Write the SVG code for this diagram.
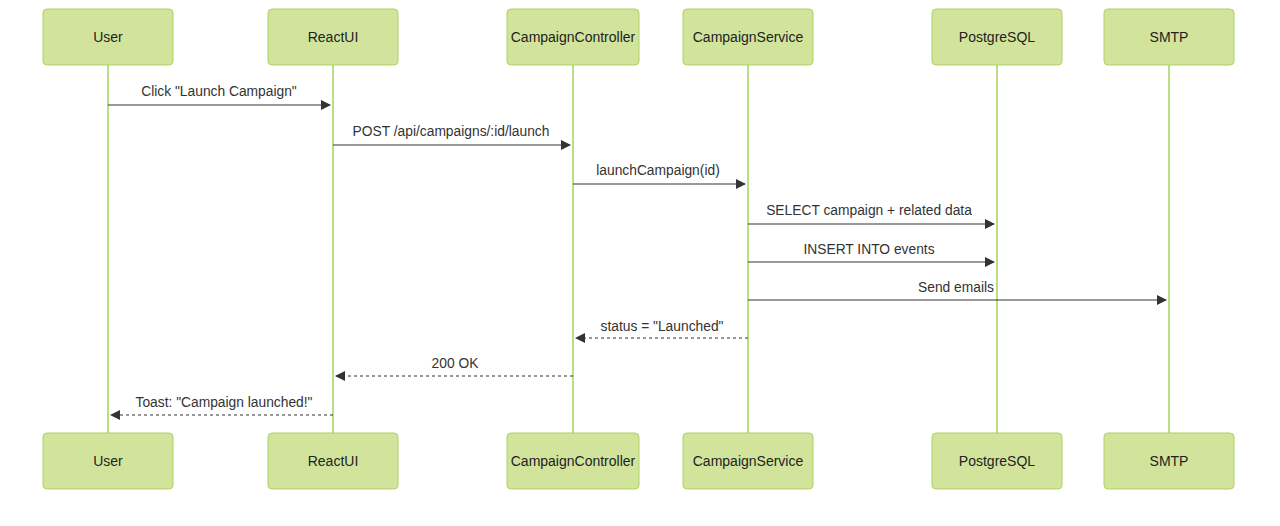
<svg xmlns="http://www.w3.org/2000/svg" width="1280" height="526" viewBox="0 0 1280 526">
<style>
.box{fill:#d2e49c;stroke:#aed260;stroke-width:1}
.life{stroke:#a7d05a;stroke-width:1.5}
.t{font-family:"Liberation Sans",Arial,sans-serif;font-size:14px;fill:#222;text-anchor:middle;dominant-baseline:central}
.m{font-family:"Liberation Sans",Arial,sans-serif;font-size:13.8px;fill:#333;text-anchor:middle}
.msg{stroke:#333;stroke-width:1;fill:none}
.dash{stroke-dasharray:3,3}
</style>
<defs>
<marker id="ah" viewBox="0 0 10 10" refX="9" refY="5" markerWidth="10" markerHeight="10" markerUnits="userSpaceOnUse" orient="auto">
<path d="M0,0 L10,5 L0,10 z" fill="#333"/>
</marker>
</defs>
<rect width="1280" height="526" fill="#fff"/>
<g id="lifelines">
<line class="life" x1="108" y1="65" x2="108" y2="433"/>
<line class="life" x1="333" y1="65" x2="333" y2="433"/>
<line class="life" x1="573" y1="65" x2="573" y2="433"/>
<line class="life" x1="748" y1="65" x2="748" y2="433"/>
<line class="life" x1="997" y1="65" x2="997" y2="433"/>
<line class="life" x1="1169" y1="65" x2="1169" y2="433"/>
</g>
<g id="User"><rect class="box" x="43" y="9" width="130" height="56" rx="4"/><text class="t" x="108" y="37">User</text><rect class="box" x="43" y="433" width="130" height="56" rx="4"/><text class="t" x="108" y="461">User</text></g>
<g id="ReactUI"><rect class="box" x="268" y="9" width="130" height="56" rx="4"/><text class="t" x="333" y="37">ReactUI</text><rect class="box" x="268" y="433" width="130" height="56" rx="4"/><text class="t" x="333" y="461">ReactUI</text></g>
<g id="CampaignController"><rect class="box" x="507" y="9" width="132" height="56" rx="4"/><text class="t" x="573" y="37">CampaignController</text><rect class="box" x="507" y="433" width="132" height="56" rx="4"/><text class="t" x="573" y="461">CampaignController</text></g>
<g id="CampaignService"><rect class="box" x="683" y="9" width="130" height="56" rx="4"/><text class="t" x="748" y="37">CampaignService</text><rect class="box" x="683" y="433" width="130" height="56" rx="4"/><text class="t" x="748" y="461">CampaignService</text></g>
<g id="PostgreSQL"><rect class="box" x="932" y="9" width="130" height="56" rx="4"/><text class="t" x="997" y="37">PostgreSQL</text><rect class="box" x="932" y="433" width="130" height="56" rx="4"/><text class="t" x="997" y="461">PostgreSQL</text></g>
<g id="SMTP"><rect class="box" x="1104" y="9" width="130" height="56" rx="4"/><text class="t" x="1169" y="37">SMTP</text><rect class="box" x="1104" y="433" width="130" height="56" rx="4"/><text class="t" x="1169" y="461">SMTP</text></g>
<g id="connectors">
<line class="msg" x1="108" y1="105" x2="330" y2="105" marker-end="url(#ah)"/>
<text class="m" x="219" y="96">Click "Launch Campaign"</text>
<line class="msg" x1="333" y1="145" x2="570" y2="145" marker-end="url(#ah)"/>
<text class="m" x="451" y="136">POST /api/campaigns/:id/launch</text>
<line class="msg" x1="573" y1="184" x2="745" y2="184" marker-end="url(#ah)"/>
<text class="m" x="658" y="175">launchCampaign(id)</text>
<line class="msg" x1="748" y1="224" x2="994" y2="224" marker-end="url(#ah)"/>
<text class="m" x="869" y="215">SELECT campaign + related data</text>
<line class="msg" x1="748" y1="262" x2="994" y2="262" marker-end="url(#ah)"/>
<text class="m" x="869" y="254">INSERT INTO events</text>
<line class="msg" x1="748" y1="300" x2="1166" y2="300" marker-end="url(#ah)"/>
<text class="m" x="956" y="292">Send emails</text>
<line class="msg dash" x1="748" y1="338" x2="576" y2="338" marker-end="url(#ah)"/>
<text class="m" x="662" y="331">status = "Launched"</text>
<line class="msg dash" x1="573" y1="376" x2="336" y2="376" marker-end="url(#ah)"/>
<text class="m" x="455" y="368">200 OK</text>
<line class="msg dash" x1="333" y1="415" x2="111" y2="415" marker-end="url(#ah)"/>
<text class="m" x="224" y="407">Toast: "Campaign launched!"</text>
</g>
</svg>
